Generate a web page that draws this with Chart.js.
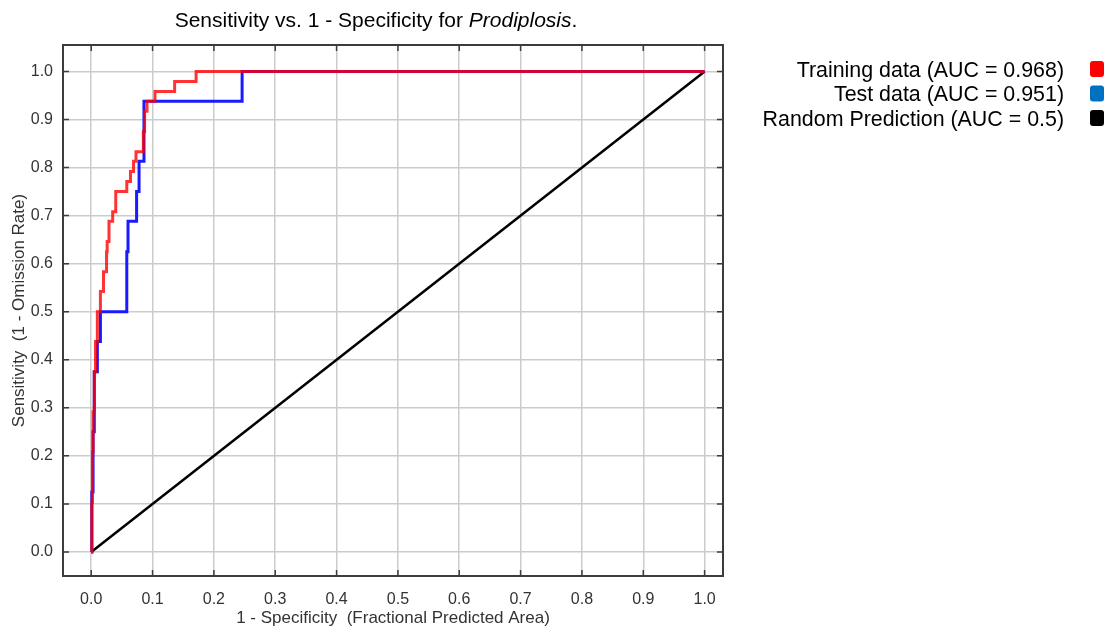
<!DOCTYPE html>
<html>
<head>
<meta charset="utf-8">
<script src="https://cdn.jsdelivr.net/npm/chart.js@4.4.0/dist/chart.umd.min.js"></script>
<style>
  html, body { margin: 0; padding: 0; background: #fff; }
  #wrap { width: 1112px; height: 631px; }
</style>
</head>
<body>
<div id="wrap"><canvas id="roc" width="1112" height="631"></canvas></div>
<script>
// tick values on both axes
const tickValues = [0, 0.1, 0.2, 0.3, 0.4, 0.5, 0.6, 0.7, 0.8, 0.9, 1.0];

// training curve (stepped: horizontal to x, then rise to y)
const trainFpr = [0, 0.001, 0.002, 0.003, 0.005, 0.007, 0.010, 0.015, 0.020, 0.025, 0.026, 0.029, 0.035, 0.040, 0.058, 0.064, 0.069, 0.073, 0.085, 0.087, 0.091, 0.104, 0.136, 0.171, 1.0];
const trainTpr = [0, 0.104, 0.208, 0.292, 0.375, 0.438, 0.500, 0.542, 0.583, 0.625, 0.646, 0.688, 0.708, 0.750, 0.771, 0.792, 0.813, 0.833, 0.875, 0.917, 0.938, 0.958, 0.979, 1.0, 1.0];

// test curve
const testFpr = [0, 0.001, 0.003, 0.005, 0.010, 0.015, 0.058, 0.060, 0.074, 0.078, 0.086, 0.246, 1.0];
const testTpr = [0, 0.125, 0.250, 0.375, 0.438, 0.500, 0.625, 0.688, 0.750, 0.813, 0.938, 1.0, 1.0];

// random prediction
const randFpr = [0, 1];
const randTpr = [0, 1];

const legendLabels = ['Training data (AUC = 0.968)', 'Test data (AUC = 0.951)', 'Random Prediction (AUC = 0.5)'];
const legendColors = ['#ff0000', '#0070c0', '#000000'];

function toPoints(xs, ys) {
    return xs.map((x, i) => ({ x: x, y: ys[i] }));
}

// title, frame, inward ticks, legend
const decorations = {
    id: 'decorations',
    afterDraw(chart) {
        const ctx = chart.ctx;
        const area = chart.chartArea;
        const xs = chart.scales.x;
        const ys = chart.scales.y;
        ctx.save();

        // frame
        ctx.strokeStyle = '#3c3c3c';
        ctx.lineWidth = 2;
        ctx.strokeRect(area.left, area.top, area.right - area.left, area.bottom - area.top);

        // short ticks pointing inward
        ctx.lineWidth = 1.5;
        tickValues.forEach(v => {
            const px = xs.getPixelForValue(v);
            const py = ys.getPixelForValue(v);
            ctx.beginPath();
            ctx.moveTo(px, area.bottom); ctx.lineTo(px, area.bottom - 6);
            ctx.moveTo(px, area.top); ctx.lineTo(px, area.top + 6);
            ctx.moveTo(area.left, py); ctx.lineTo(area.left + 6, py);
            ctx.moveTo(area.right, py); ctx.lineTo(area.right - 6, py);
            ctx.stroke();
        });

        // title with italic species name
        const fam = '"Liberation Sans", Arial, sans-serif';
        const parts = [
            { t: 'Sensitivity vs. 1 - Specificity for ', f: '21px ' + fam },
            { t: 'Prodiplosis', f: 'italic 21px ' + fam },
            { t: '.', f: '21px ' + fam }
        ];
        let total = 0;
        parts.forEach(p => { ctx.font = p.f; p.w = ctx.measureText(p.t).width; total += p.w; });
        let tx = 376 - total / 2;
        ctx.fillStyle = '#000';
        ctx.textBaseline = 'alphabetic';
        ctx.textAlign = 'left';
        parts.forEach(p => { ctx.font = p.f; ctx.fillText(p.t, tx, 27); tx += p.w; });

        // legend on the right
        ctx.font = '21.4px ' + fam;
        ctx.textAlign = 'right';
        legendLabels.forEach((lab, i) => {
            const cy = 69 + i * 24.5;
            ctx.fillStyle = '#000';
            ctx.fillText(lab, 1064, cy + 7.5);
            ctx.fillStyle = legendColors[i];
            ctx.beginPath();
            ctx.roundRect(1090, cy - 8, 14, 16, 3);
            ctx.fill();
        });
        ctx.restore();
    }
};

const ctx = document.getElementById('roc').getContext('2d');
const rocChart = new Chart(ctx, {
    type: 'scatter',
    data: {
        datasets: [
            {
                label: legendLabels[0],
                data: toPoints(trainFpr, trainTpr),
                showLine: true,
                stepped: 'before',
                borderColor: 'rgba(255, 0, 0, 0.8)',
                borderWidth: 3,
                pointRadius: 0,
                order: 1
            },
            {
                label: legendLabels[1],
                data: toPoints(testFpr, testTpr),
                showLine: true,
                stepped: 'before',
                borderColor: '#1a1aff',
                borderWidth: 3,
                pointRadius: 0,
                order: 2
            },
            {
                label: legendLabels[2],
                data: toPoints(randFpr, randTpr),
                showLine: true,
                borderColor: '#000',
                borderWidth: 2.5,
                pointRadius: 0,
                order: 3
            }
        ]
    },
    options: {
        responsive: false,
        animation: false,
        devicePixelRatio: 1,
        layout: { padding: { top: 45, right: 389, left: 0, bottom: 0 } },
        plugins: {
            legend: { display: false },
            tooltip: { enabled: false }
        },
        scales: {
            x: {
                type: 'linear',
                min: -0.046,
                max: 1.03,
                afterBuildTicks: s => { s.ticks = tickValues.map(v => ({ value: v })); },
                afterFit: s => { s.height = 55; },
                grid: { color: '#cccccc', lineWidth: 1.5, drawTicks: false },
                border: { display: false },
                ticks: {
                    padding: 14,
                    color: '#333',
                    font: { family: '"Liberation Sans", Arial, sans-serif', size: 16 },
                    callback: v => v.toFixed(1)
                },
                title: {
                    display: true,
                    text: '1 - Specificity  (Fractional Predicted Area)',
                    color: '#333',
                    font: { family: '"Liberation Sans", Arial, sans-serif', size: 17 },
                    padding: { top: 0, bottom: 2 }
                }
            },
            y: {
                type: 'linear',
                min: -0.05,
                max: 1.055,
                afterBuildTicks: s => { s.ticks = tickValues.map(v => ({ value: v })); },
                afterFit: s => { s.width = 63; },
                grid: { color: '#cccccc', lineWidth: 1.5, drawTicks: false },
                border: { display: false },
                ticks: {
                    padding: 10,
                    color: '#333',
                    font: { family: '"Liberation Sans", Arial, sans-serif', size: 16 },
                    callback: v => v.toFixed(1)
                },
                title: {
                    display: true,
                    text: 'Sensitivity  (1 - Omission Rate)',
                    color: '#333',
                    font: { family: '"Liberation Sans", Arial, sans-serif', size: 17 },
                    padding: { top: 9, bottom: 0 }
                }
            }
        }
    },
    plugins: [decorations]
});
</script>
</body>
</html>
